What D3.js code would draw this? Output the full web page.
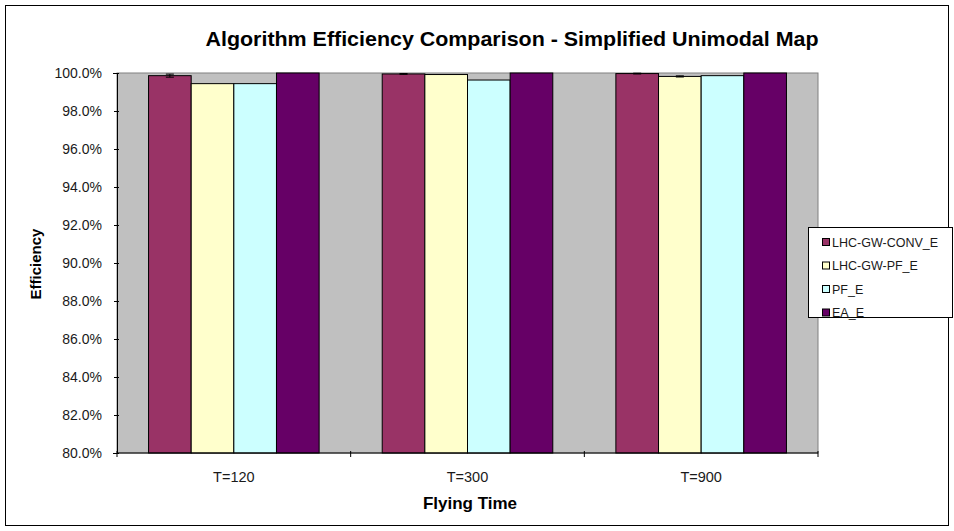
<!DOCTYPE html>
<html><head><meta charset="utf-8">
<script src="https://cdn.jsdelivr.net/npm/d3@7"></script>
<style>body{margin:0;background:#fff;} text{font-family:"Liberation Sans",Arial,sans-serif;}</style>
</head><body>
<svg id="c" width="954" height="531"></svg>
<script>
const categories = ["T=120", "T=300", "T=900"];
const seriesNames = ["LHC-GW-CONV_E", "LHC-GW-PF_E", "PF_E", "EA_E"];
const seriesColors = ["#993366", "#ffffcc", "#ccffff", "#660066"];
const convValues = [99.86, 99.95, 99.97];
const lhcPfValues = [99.44, 99.92, 99.82];
const pfValues = [99.44, 99.63, 99.86];
const eaValues = [100.0, 100.0, 100.0];
const convErrors = [0.08, 0.02, 0.02];
const lhcPfErrors = [0.0, 0.0, 0.03];
const pfErrors = [0.0, 0.0, 0.0];
const eaErrors = [0.0, 0.0, 0.0];
const yTicks = [80, 82, 84, 86, 88, 90, 92, 94, 96, 98, 100];

const series = [convValues, lhcPfValues, pfValues, eaValues];
const errors = [convErrors, lhcPfErrors, pfErrors, eaErrors];

const svg = d3.select("#c");
svg.append("rect").attr("x", 5.5).attr("y", 5.5).attr("width", 943).attr("height", 520)
  .attr("fill", "#fff").attr("stroke", "#000").attr("stroke-width", 1);

const L = 117, R = 818, T = 73, B = 453;
const x = d3.scaleBand().domain(categories).range([L, R]).paddingInner(0.27).paddingOuter(0.135);
const xOuter = d3.scaleBand().domain(categories).range([L, R]);
const xs = d3.scaleBand().domain(d3.range(seriesNames.length)).range([0, x.bandwidth()]);
const y = d3.scaleLinear().domain([80, 100]).range([B, T]);

svg.append("rect").attr("x", L).attr("y", T).attr("width", R - L).attr("height", B - T)
  .attr("fill", "#c0c0c0").attr("stroke", "#808080");

const g = svg.append("g");
categories.forEach((c, ci) => {
  series.forEach((vals, si) => {
    const x0 = x(c) + xs(si);
    g.append("rect").attr("x", x0).attr("y", y(vals[ci])).attr("width", xs.bandwidth())
      .attr("height", y(80) - y(vals[ci])).attr("fill", seriesColors[si]).attr("stroke", "#000").attr("stroke-width", 1);
    const e = errors[si][ci];
    if (e > 0) {
      const cx = x0 + xs.bandwidth() / 2;
      g.append("line").attr("x1", cx).attr("x2", cx).attr("y1", y(vals[ci] + e)).attr("y2", y(vals[ci] - e)).attr("stroke", "#000");
      g.append("line").attr("x1", cx - 4).attr("x2", cx + 4).attr("y1", y(vals[ci] + e)).attr("y2", y(vals[ci] + e)).attr("stroke", "#000");
      g.append("line").attr("x1", cx - 4).attr("x2", cx + 4).attr("y1", y(vals[ci] - e)).attr("y2", y(vals[ci] - e)).attr("stroke", "#000");
    }
  });
});

// y axis
const yAxis = d3.axisLeft(y).tickValues(yTicks).tickFormat(d => d3.format(".1f")(d) + "%").tickSize(4).tickPadding(11);
const ya = svg.append("g").attr("transform", `translate(${L},0)`).call(yAxis);
ya.select(".domain").attr("stroke", "#000");
ya.selectAll(".tick line").attr("x2", -3).attr("x1", 2).attr("stroke", "#000");
ya.selectAll("text").attr("font-size", 14).attr("fill", "#1a1a1a")
  .style("font-family", "'Liberation Sans', Arial, sans-serif");

// x axis
const xa = svg.append("g").attr("transform", `translate(0,${B})`);
xa.append("line").attr("x1", L).attr("x2", R).attr("y1", 0).attr("y2", 0).attr("stroke", "#000");
const bounds = categories.map(c => xOuter(c)).concat([R]);
bounds.forEach(b => xa.append("line").attr("x1", b).attr("x2", b).attr("y1", -2).attr("y2", 4).attr("stroke", "#000"));
categories.forEach(c => {
  xa.append("text").attr("x", xOuter(c) + xOuter.bandwidth() / 2).attr("y", 29).attr("text-anchor", "middle")
    .attr("font-size", 14.5).attr("fill", "#1a1a1a").text(c);
});

// titles
svg.append("text").attr("x", 512).attr("y", 46).attr("text-anchor", "middle").attr("font-size", 21)
  .attr("font-weight", "bold").attr("textLength", 613).attr("lengthAdjust", "spacingAndGlyphs")
  .text("Algorithm Efficiency Comparison - Simplified Unimodal Map");
svg.append("text").attr("x", 470).attr("y", 509).attr("text-anchor", "middle").attr("font-size", 17)
  .attr("font-weight", "bold").text("Flying Time");
svg.append("text").attr("transform", "translate(41,264) rotate(-90)").attr("text-anchor", "middle").attr("font-size", 15)
  .attr("font-weight", "bold").text("Efficiency");

// legend
const lg = svg.append("g");
lg.append("rect").attr("x", 808.5).attr("y", 227.5).attr("width", 144).attr("height", 90)
  .attr("fill", "#fff").attr("stroke", "#000");
seriesNames.forEach((n, i) => {
  const yy = 242 + i * 23.5;
  lg.append("rect").attr("x", 822.5).attr("y", yy - 3.5).attr("width", 7).attr("height", 7)
    .attr("fill", seriesColors[i]).attr("stroke", "#000");
  lg.append("text").attr("x", 832).attr("y", yy + 4.5).attr("font-size", 12.5).attr("fill", "#1a1a1a").text(n);
});
</script>
</body></html>
